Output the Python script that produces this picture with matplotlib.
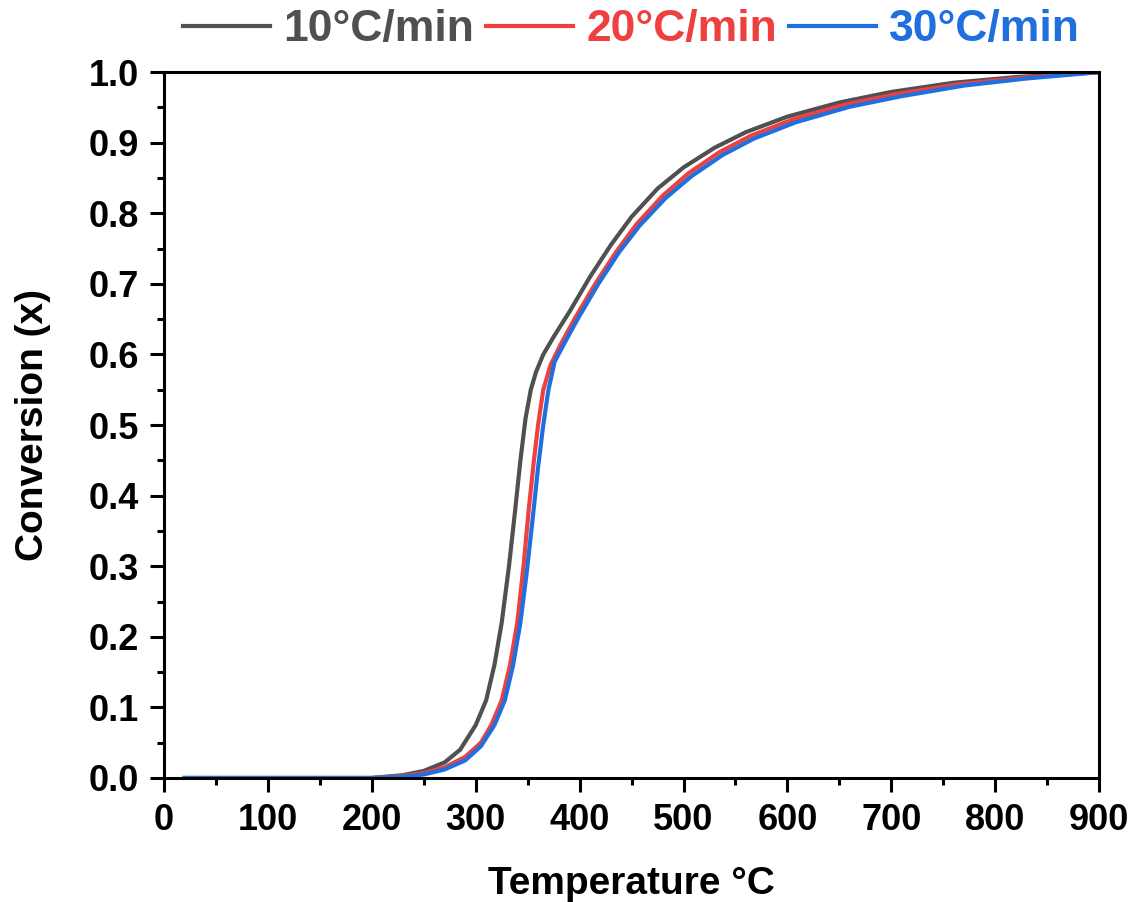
import matplotlib
matplotlib.use('Agg')
import matplotlib.pyplot as plt
from matplotlib.ticker import MultipleLocator

plt.rcParams['font.family'] = ['Liberation Sans', 'DejaVu Sans']
plt.rcParams['font.weight'] = 'bold'

# temperature (°C) and conversion
temp_10 = [20, 100, 200, 230, 250, 270, 285, 300, 310, 318, 325, 332, 338, 343, 348, 353, 358, 365, 375,
           390, 410, 430, 450, 475, 500, 530, 560, 600, 650, 700, 760, 820, 900]
conv_10 = [0.0, 0.0, 0.0, 0.004, 0.01, 0.022, 0.04, 0.075, 0.11, 0.16, 0.22, 0.30, 0.38, 0.45, 0.51, 0.55,
           0.575, 0.60, 0.625, 0.66, 0.71, 0.755, 0.795, 0.835, 0.865, 0.893, 0.915, 0.937, 0.957, 0.972,
           0.985, 0.993, 1.0]

temp_20 = [20, 100, 200, 230, 250, 270, 290, 305, 315, 325, 333, 340, 346, 351, 356, 360, 365, 372, 382,
           395, 415, 435, 455, 480, 505, 535, 565, 605, 655, 705, 765, 825, 900]
conv_20 = [0.0, 0.0, 0.0, 0.003, 0.007, 0.015, 0.03, 0.05, 0.075, 0.11, 0.16, 0.22, 0.30, 0.38, 0.45,
           0.50, 0.55, 0.585, 0.615, 0.65, 0.70, 0.745, 0.785, 0.825, 0.857, 0.887, 0.91, 0.933, 0.954,
           0.969, 0.983, 0.992, 1.0]

temp_30 = [20, 100, 200, 230, 250, 270, 290, 305, 318, 328, 336, 343, 349, 355, 360, 365, 370, 376, 385,
           398, 418, 438, 458, 483, 508, 538, 568, 608, 660, 710, 770, 830, 900]
conv_30 = [0.0, 0.0, 0.0, 0.002, 0.005, 0.012, 0.025, 0.045, 0.075, 0.11, 0.16, 0.22, 0.29, 0.37, 0.44,
           0.50, 0.55, 0.59, 0.615, 0.65, 0.70, 0.745, 0.783, 0.822, 0.853, 0.883, 0.906, 0.929, 0.951,
           0.966, 0.981, 0.991, 1.0]

labels = ['10°C/min', '20°C/min', '30°C/min']
colors = ['#505050', '#EF4040', '#1F6FDF']

fig = plt.figure(figsize=(11.39, 9.02), dpi=100)
ax = fig.add_axes([0.144, 0.1375, 0.821, 0.7825])

for t, c, lab, col in zip([temp_10, temp_20, temp_30], [conv_10, conv_20, conv_30], labels, colors):
    ax.plot(t, c, color=col, lw=3, label=lab)

ax.set_xlim(0, 900)
ax.set_ylim(0, 1.0)
ax.xaxis.set_minor_locator(MultipleLocator(50))
ax.yaxis.set_minor_locator(MultipleLocator(0.05))
ax.set_xticks(range(0, 901, 100))
ax.set_xticklabels([str(v) for v in range(0, 901, 100)])
ax.set_yticks([i / 10 for i in range(11)])
ax.set_yticklabels([f'{i / 10:.1f}' for i in range(11)])
ax.tick_params(which='major', direction='out', length=10, width=2.2, labelsize=26, pad=8)
ax.tick_params(which='minor', direction='out', length=5, width=2.2)
for s in ax.spines.values():
    s.set_linewidth(2.2)

ax.set_xlabel('Temperature °C', fontsize=28, fontweight='bold', labelpad=20)
ax.set_ylabel('Conversion (x)', fontsize=28, fontweight='bold', labelpad=27)

fig.legend(*ax.get_legend_handles_labels(), loc='center', bbox_to_anchor=(631.5 / 1139, 1 - 30 / 902),
           ncol=3, frameon=False, fontsize=32, handlelength=1.95, columnspacing=0.27,
           handletextpad=0.3, labelcolor='linecolor', borderpad=0)

fig.savefig('out.png', dpi=100)
